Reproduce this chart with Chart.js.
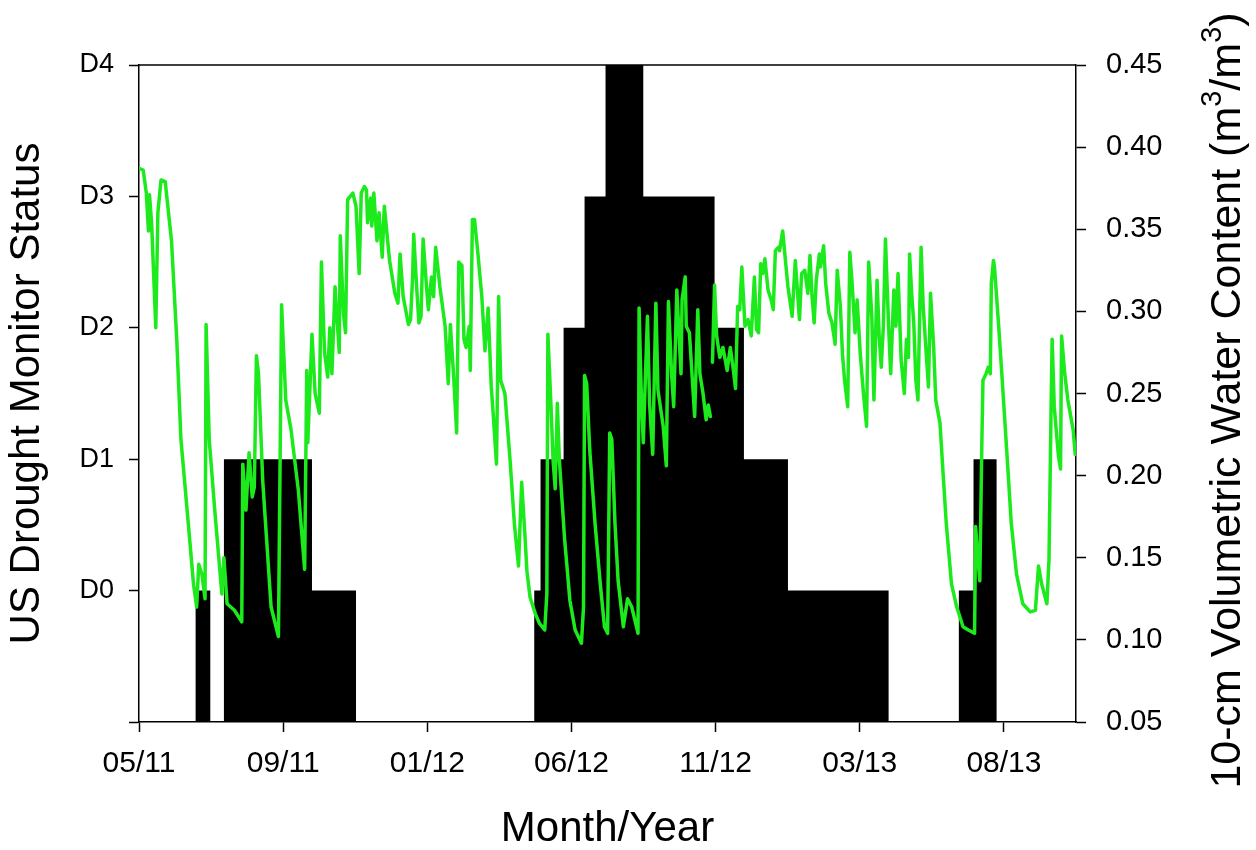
<!DOCTYPE html>
<html>
<head>
<meta charset="utf-8">
<script src="https://cdn.jsdelivr.net/npm/chart.js@4/dist/chart.umd.min.js"></script>
<style>
  html, body { margin: 0; padding: 0; background: #fff; }
  canvas { display: block; }
</style>
</head>
<body>
<canvas id="c" width="1256" height="850"></canvas>
<script>
// Time axis: days since 1 May 2011
const tickDays   = [0, 137.5, 275, 412.5, 550, 687.5, 825];
const tickLabels = ['05/11', '09/11', '01/12', '06/12', '11/12', '03/13', '08/13'];
const xMax = 893.75;

// US Drought Monitor categories (left axis)
const droughtLabels = ['D0', 'D1', 'D2', 'D3', 'D4'];

// Drought Monitor status periods: start day, end day, category (0 = D0 ... 4 = D4)
const dmStart = [54, 81, 165, 377, 383, 405, 425, 445, 481, 549, 577, 619, 782, 796];
const dmEnd   = [68, 165, 207, 383, 405, 425, 445, 481, 549, 577, 619, 715, 796, 818];
const dmLevel = [0, 1, 0, 0, 1, 2, 3, 4, 3, 2, 1, 0, 0, 1];

// 10-cm volumetric water content (m3/m3); null marks a logger gap
const vwcDay = [
  0, 4, 7, 9, 10, 12, 16, 18, 21, 25, 31, 36, 40, 47, 52, 55, 57, 60, 63, 64,
  67, 72, 79, 81, 84, 91, 98, 99, 102, 105, 108, 110, 112, 114, 118, 126, 133, 136, 140, 145,
  152, 158, 160, 161, 165, 168, 170, 172, 174, 177, 180, 182, 184, 187, 191, 192, 195, 197, 199, 204,
  207, 210, 212, 215, 217, 218, 221, 222, 224, 227, 229, 232, 234, 239, 244, 247, 249, 252, 257, 259,
  261, 262, 265, 267, 269, 271, 274, 276, 279, 281, 283, 287, 292, 295, 297, 300, 303, 305, 308, 310,
  312, 315, 316, 318, 320, 323, 327, 330, 333, 336, 338, 341, 343, 345, 349, 354, 358, 362, 365, 368,
  370, 373, 378, 382, 387, 389, 390, 393, 395, 397, 399, 401, 406, 411, 416, 422, 424, 425, 427, 430,
  435, 440, 444, 447, 449, 451, 454, 457, 462, 466, 470, 476, 477, 479, 481, 483, 485, 487, 490, 493,
  495, 500, 503, 505, 508, 510, 513, 515, 517, 518, 521, 522, 525, 530, 533, 535, 538, 541, 543, 545,
  546,
  547, 549, 551, 554, 557, 561, 564, 567, 569, 571, 573, 575, 578, 581, 584, 587, 589, 591, 593, 595,
  597, 600, 603, 605, 607, 610, 611, 614, 616, 619, 623, 626, 628, 630, 632, 635, 638, 640, 642, 644,
  646, 649, 650, 653, 655, 658, 661, 664, 666, 669, 671, 673, 676, 678, 680, 683, 685, 688, 691, 694,
  696, 699, 701, 704, 706, 708, 710, 712, 715, 717, 720, 722, 724, 727, 730, 732, 734, 735, 737, 739,
  741, 743, 746, 748, 750, 753, 755, 758, 760, 764, 767, 770, 775, 780, 786, 791, 797, 798, 800, 802,
  804, 805, 808, 810, 812, 813, 815, 816, 820, 823, 828, 832, 837, 843, 850, 855, 858, 861, 866, 868,
  870, 871, 873, 877, 879, 880, 883, 886, 891, 893
];
const vwcValue = [
  0.387, 0.386, 0.372, 0.349, 0.371, 0.354, 0.290, 0.360, 0.380, 0.379, 0.343, 0.283, 0.222, 0.171, 0.134, 0.120, 0.146, 0.140, 0.125, 0.292,
  0.222, 0.181, 0.128, 0.150, 0.122, 0.118, 0.111, 0.207, 0.179, 0.214, 0.187, 0.193, 0.273, 0.262, 0.197, 0.120, 0.102, 0.304, 0.246, 0.228,
  0.191, 0.143, 0.264, 0.220, 0.286, 0.250, 0.244, 0.238, 0.330, 0.275, 0.260, 0.290, 0.262, 0.315, 0.275, 0.346, 0.299, 0.287, 0.368, 0.372,
  0.364, 0.323, 0.372, 0.376, 0.374, 0.354, 0.369, 0.352, 0.372, 0.343, 0.360, 0.333, 0.364, 0.331, 0.311, 0.305, 0.335, 0.309, 0.292, 0.295,
  0.321, 0.347, 0.313, 0.293, 0.297, 0.344, 0.317, 0.301, 0.321, 0.309, 0.339, 0.315, 0.291, 0.256, 0.292, 0.262, 0.226, 0.330, 0.328, 0.283,
  0.278, 0.291, 0.264, 0.356, 0.356, 0.337, 0.309, 0.276, 0.302, 0.254, 0.236, 0.207, 0.309, 0.258, 0.250, 0.209, 0.171, 0.145, 0.196, 0.165,
  0.142, 0.126, 0.116, 0.110, 0.106, 0.128, 0.286, 0.242, 0.209, 0.192, 0.244, 0.209, 0.161, 0.124, 0.106, 0.098, 0.120, 0.261, 0.256, 0.215,
  0.171, 0.134, 0.108, 0.104, 0.226, 0.222, 0.171, 0.136, 0.108, 0.125, 0.120, 0.104, 0.302, 0.252, 0.220, 0.260, 0.297, 0.244, 0.213, 0.305,
  0.252, 0.230, 0.206, 0.306, 0.262, 0.242, 0.313, 0.287, 0.262, 0.307, 0.321, 0.291, 0.287, 0.236, 0.301, 0.262, 0.250, 0.234, 0.243, 0.236,
  null,
  0.269, 0.316, 0.285, 0.272, 0.278, 0.264, 0.278, 0.264, 0.253, 0.303, 0.301, 0.327, 0.291, 0.295, 0.285, 0.321, 0.289, 0.287, 0.329, 0.323,
  0.332, 0.313, 0.307, 0.301, 0.337, 0.339, 0.337, 0.349, 0.335, 0.315, 0.297, 0.331, 0.313, 0.295, 0.323, 0.325, 0.311, 0.334, 0.309, 0.293,
  0.319, 0.335, 0.327, 0.340, 0.317, 0.299, 0.293, 0.280, 0.325, 0.303, 0.274, 0.258, 0.242, 0.336, 0.319, 0.287, 0.307, 0.274, 0.250, 0.230,
  0.330, 0.297, 0.246, 0.319, 0.285, 0.266, 0.291, 0.344, 0.291, 0.262, 0.313, 0.291, 0.323, 0.270, 0.250, 0.283, 0.272, 0.335, 0.311, 0.293,
  0.258, 0.246, 0.339, 0.303, 0.283, 0.254, 0.311, 0.278, 0.246, 0.232, 0.201, 0.171, 0.134, 0.120, 0.108, 0.106, 0.104, 0.169, 0.151, 0.136,
  0.222, 0.258, 0.262, 0.266, 0.262, 0.317, 0.331, 0.327, 0.291, 0.262, 0.212, 0.171, 0.140, 0.122, 0.117, 0.118, 0.145, 0.134, 0.122, 0.149,
  0.242, 0.283, 0.242, 0.212, 0.204, 0.285, 0.262, 0.246, 0.228, 0.213
];

const FONT = "'Liberation Sans', Arial, Helvetica, sans-serif";

// Line points for the soil moisture series
const vwcPoints = vwcDay.map((d, i) => ({ x: d, y: vwcValue[i] }));

// Outline of the drought status blocks, filled down to the bottom of the left axis
const dmPoints = [{ x: 0, y: -1 }];
dmStart.forEach((s, i) => {
  if (i === 0 || dmEnd[i - 1] !== s) dmPoints.push({ x: s, y: -1 });
  dmPoints.push({ x: s, y: dmLevel[i] }, { x: dmEnd[i], y: dmLevel[i] });
  if (i === dmStart.length - 1 || dmStart[i + 1] !== dmEnd[i]) dmPoints.push({ x: dmEnd[i], y: -1 });
});
dmPoints.push({ x: xMax, y: -1 });

// Frame line along the top of the plot and the right-hand axis title (reads bottom to top)
const framePlugin = {
  id: 'framePlugin',
  afterDraw(chart) {
    const { ctx, chartArea } = chart;
    ctx.save();
    ctx.strokeStyle = '#000';
    ctx.lineWidth = 1.5;
    ctx.beginPath();
    ctx.moveTo(chartArea.left, chartArea.top);
    ctx.lineTo(chartArea.right, chartArea.top);
    ctx.stroke();

    const parts = [
      ['10-cm Volumetric Water Content (m', false],
      ['3', true],
      ['/m', false],
      ['3', true],
      [')', false]
    ];
    const base = '43px ' + FONT;
    const sup = '29px ' + FONT;
    let total = 0;
    parts.forEach(([t, s]) => { ctx.font = s ? sup : base; total += ctx.measureText(t).width; });
    const cx = chart.width - 28;
    const cy = (chartArea.top + chartArea.bottom) / 2 + 7;
    ctx.translate(cx, cy);
    ctx.rotate(-Math.PI / 2);
    ctx.fillStyle = '#000';
    ctx.textBaseline = 'middle';
    ctx.textAlign = 'left';
    let pos = -total / 2;
    parts.forEach(([t, s]) => {
      ctx.font = s ? sup : base;
      ctx.fillText(t, pos, s ? -15 : 0);
      pos += ctx.measureText(t).width;
    });
    ctx.restore();
  }
};

const axisLine = { display: true, color: '#000', width: 1.5 };
const tickGrid = { drawOnChartArea: false, drawTicks: true, tickLength: 10, tickColor: '#000', tickWidth: 1.5 };

new Chart(document.getElementById('c'), {
  type: 'line',
  data: {
    datasets: [
      {
        label: 'VWC',
        data: vwcPoints,
        xAxisID: 'x',
        yAxisID: 'y2',
        borderColor: 'rgb(28, 234, 28)',
        borderWidth: 3.5,
        borderJoinStyle: 'round',
        borderCapStyle: 'round',
        pointRadius: 0,
        tension: 0,
        fill: false,
        spanGaps: false,
        order: 0
      },
      {
        label: 'Drought',
        data: dmPoints,
        xAxisID: 'x',
        yAxisID: 'y',
        borderWidth: 0,
        borderColor: '#000',
        backgroundColor: '#000',
        pointRadius: 0,
        tension: 0,
        fill: 'start',
        order: 1
      }
    ]
  },
  options: {
    responsive: false,
    devicePixelRatio: 1,
    animation: false,
    events: [],
    layout: { padding: { top: 65, left: 0, right: 0, bottom: 0 } },
    plugins: {
      legend: { display: false },
      tooltip: { enabled: false }
    },
    scales: {
      x: {
        type: 'linear',
        position: 'bottom',
        min: 0,
        max: xMax,
        border: axisLine,
        grid: tickGrid,
        afterBuildTicks(scale) { scale.ticks = tickDays.map(v => ({ value: v })); },
        afterFit(scale) { scale.height = 128; },
        ticks: {
          color: '#000',
          font: { family: FONT, size: 30 },
          padding: 14,
          maxRotation: 0,
          autoSkip: false,
          callback(value) {
            const i = tickDays.indexOf(value);
            return i >= 0 ? tickLabels[i] : '';
          }
        },
        title: {
          display: true,
          text: 'Month/Year',
          color: '#000',
          font: { family: FONT, size: 42, lineHeight: 1 },
          padding: { top: 0, bottom: 0 }
        }
      },
      y: {
        type: 'linear',
        position: 'left',
        min: -1,
        max: 4,
        border: axisLine,
        grid: tickGrid,
        afterFit(scale) { scale.width = 139; },
        ticks: {
          stepSize: 1,
          color: '#000',
          font: { family: FONT, size: 27 },
          padding: 15,
          callback(value) { return value >= 0 ? droughtLabels[value] : ''; }
        },
        title: {
          display: true,
          text: 'US Drought Monitor Status',
          color: '#000',
          font: { family: FONT, size: 42, lineHeight: 1 },
          padding: { top: 6, bottom: 0 }
        }
      },
      y2: {
        type: 'linear',
        position: 'right',
        min: 0.05,
        max: 0.45,
        border: axisLine,
        grid: tickGrid,
        afterFit(scale) { scale.width = 180; },
        ticks: {
          stepSize: 0.05,
          color: '#000',
          font: { family: FONT, size: 29 },
          padding: 20,
          callback(value) { return value.toFixed(2); }
        }
      }
    }
  },
  plugins: [framePlugin]
});
</script>
</body>
</html>
